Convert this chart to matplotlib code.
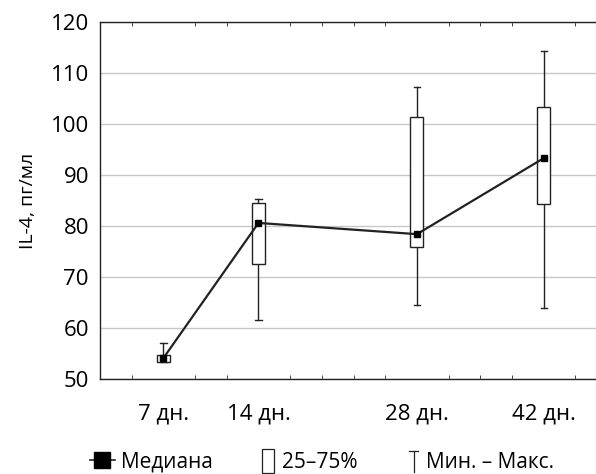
import numpy as np
import matplotlib.pyplot as plt
from matplotlib.lines import Line2D
from matplotlib.patches import Rectangle
from matplotlib.legend_handler import HandlerBase

plt.rcParams['font.family'] = ['Open Sans', 'DejaVu Sans']

# данные
srok = ["7 дн.", "14 дн.", "28 дн.", "42 дн."]
poz = [2, 5, 10, 14]
mediana = [54.1, 80.6, 78.4, 93.3]
q25 = [53.3, 72.5, 75.9, 84.3]
q75 = [54.7, 84.5, 101.4, 103.3]
vmin = [53.3, 61.6, 64.5, 63.9]
vmax = [57.0, 85.3, 107.3, 114.3]

COL = "#222222"


class HandlerBox(HandlerBase):
    def create_artists(self, legend, orig, xd, yd, w, h, fs, trans):
        r = Rectangle((xd + w * 0.45, yd - h * 0.35), w * 0.5, h * 1.6,
                      facecolor="white", edgecolor=COL, lw=0.9, transform=trans)
        return [r]


class HandlerWhisk(HandlerBase):
    def create_artists(self, legend, orig, xd, yd, w, h, fs, trans):
        cx = xd + w * 0.75
        v = Line2D([cx, cx], [yd - h * 0.3, yd + h * 1.1], color=COL, lw=0.9,
                   transform=trans)
        c = Line2D([cx - 3, cx + 3], [yd + h * 1.1, yd + h * 1.1], color=COL,
                   lw=0.9, transform=trans)
        return [v, c]


fig = plt.figure(figsize=(5.96, 4.74), dpi=100)
ax = fig.add_axes([100 / 596, 95 / 474, 496 / 596, 357 / 474])

ax.set_ylim(50, 120)
ax.set_xlim(0, 15.65)
ax.yaxis.grid(True, color="#c8c8c8", lw=1.0)
ax.set_axisbelow(True)

w = 0.41
for i in range(len(poz)):
    x = poz[i]
    ax.plot([x, x], [vmin[i], q25[i]], color=COL, lw=1.0, zorder=2)
    ax.plot([x, x], [q75[i], vmax[i]], color=COL, lw=1.0, zorder=2)
    for yy in (vmin[i], vmax[i]):
        ax.plot([x - 0.1, x + 0.1], [yy, yy], color=COL, lw=1.0, zorder=2)
    ax.add_patch(Rectangle((x - w / 2, q25[i]), w, q75[i] - q25[i],
                           facecolor="white", edgecolor=COL, lw=1.0, zorder=3))

ax.plot(poz, mediana, color=COL, lw=1.6, marker="s", ms=5,
        markerfacecolor="black", markeredgecolor="black", zorder=4)

ax.set_xticks(poz)
ax.set_xticklabels(srok)
ax.set_xticks(np.arange(0, 16, 1), minor=True)
ax.set_yticks(np.arange(50, 121, 10))
ax.tick_params(axis="x", which="major", length=0, pad=18, labelsize=16)
ax.tick_params(axis="x", which="minor", direction="in", length=3,
               top=True, bottom=True, color=COL)
ax.tick_params(axis="y", length=0, pad=8, labelsize=16)
ax.set_ylabel("IL-4, пг/мл", fontsize=14, labelpad=10)

for s in ["left", "top", "bottom"]:
    ax.spines[s].set_color(COL)
    ax.spines[s].set_linewidth(1.0)
ax.spines["right"].set_visible(False)

h_med = Line2D([], [], color=COL, lw=1.2, marker="s", ms=11,
               markerfacecolor="black", markeredgecolor="black")
h_box = Rectangle((0, 0), 1, 1)
h_wh = Line2D([], [])
fig.legend([h_med, h_box, h_wh], ["Медиана", "25–75%", "Мин. – Макс."],
           handler_map={Rectangle: HandlerBox(), h_wh: HandlerWhisk()},
           loc="center", bbox_to_anchor=(322 / 596, 1 - 462 / 474), ncol=3,
           frameon=False, fontsize=15, handlelength=1.2, handletextpad=0.3,
           columnspacing=1.8)

fig.savefig("out.png", dpi=100)
